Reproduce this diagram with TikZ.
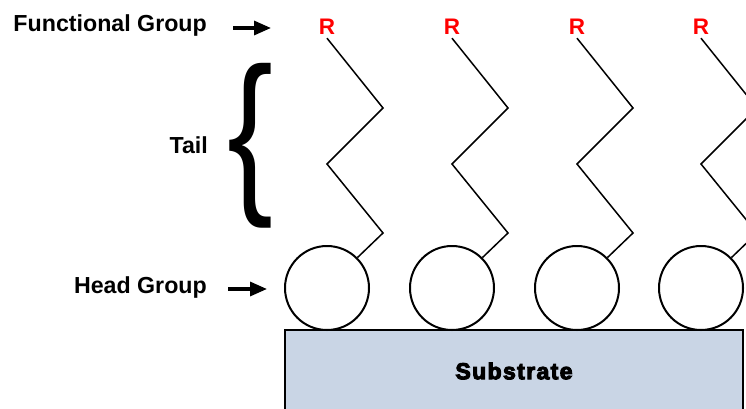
\documentclass[tikz,border=0pt]{standalone}
\usepackage{fontspec}
\setmainfont{Liberation Sans}
\newfontfamily\heavyfont[BoldFeatures={FakeBold=4.5}, LetterSpace=6]{Liberation Sans}
\usetikzlibrary{arrows.meta}
\definecolor{subfill}{HTML}{C9D5E5}
\tikzset{
  lbl/.style={font=\fontsize{23.2}{27}\selectfont\bfseries, inner sep=0pt},
  rlab/.style={font=\fontsize{22.5}{26}\selectfont\bfseries, text=red, inner sep=3pt, anchor=base},
  head/.style={circle, draw=black, line width=2pt, fill=white, minimum size=84pt, inner sep=0pt},
  chain/.style={draw=black, line width=1.5pt, line join=miter},
  pointer/.style={draw=black, line width=3.2pt, -{Triangle[length=17pt,width=14pt]}},
  subbox/.style={draw=black, line width=2pt, fill=subfill}
}
\begin{document}
\begin{tikzpicture}[x=1pt,y=-1pt]
\useasboundingbox (0,0) rectangle (746,409);
\clip (0,0) rectangle (746,409);
% substrate
\draw[subbox] (285,330) rectangle (743,420);
\node[font=\heavyfont\fontsize{23}{27}\selectfont\bfseries] (sub) at (514,371) {Substrate};
% labels
\node[lbl, anchor=east] (fg) at (207,26) {Functional Group};
\node[lbl, anchor=east] (tail) at (208,145) {Tail};
\node[lbl, anchor=east] (hg) at (207,287) {Head Group};
\coordinate (fgA) at (233,28);
\coordinate (fgB) at (271,28);
\coordinate (hgA) at (228,289);
\coordinate (hgB) at (267,289);
\draw[pointer] (fgA) -- (fgB);
\draw[pointer] (hgA) -- (hgB);
% brace
\node[inner sep=0pt] (brace) at (250,146) {\resizebox{46pt}{128pt}{\{}};
% molecules
\foreach \i/\cx in {1/327,2/452,3/577,4/701}{
  \node[head] (C\i) at (\cx,288) {};
  \node[rlab] (R\i) at (\cx,35) {R};
  \draw[chain] (R\i.south) -- (\cx+56,108) -- (\cx,164) -- (\cx+56,233) -- (C\i.45);
}
\end{tikzpicture}
\end{document}
